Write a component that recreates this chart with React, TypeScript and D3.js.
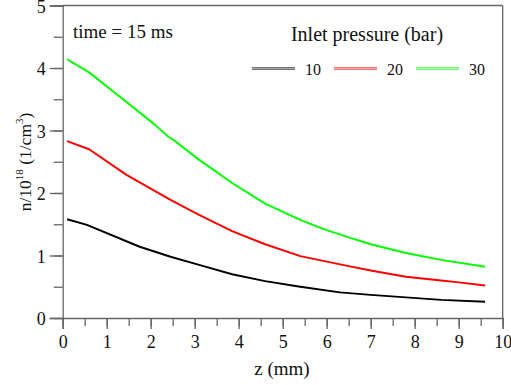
import React, { useEffect, useRef } from 'react';
import * as d3 from 'd3';

// z positions (mm) and densities (1e18 / cm^3)
const zGreen = [0.1, 0.6, 1.3, 2.1, 2.4, 2.5, 3.1, 3.35, 3.85, 4.6, 5.4, 5.9, 6.5, 7.0, 7.8, 8.6, 9.6];
const nGreen = [4.14, 3.93, 3.54, 3.09, 2.9, 2.86, 2.53, 2.41, 2.16, 1.83, 1.57, 1.43, 1.29, 1.18, 1.04, 0.93, 0.82];

const zRed = [0.1, 0.6, 1.45, 2.45, 3.1, 3.85, 4.6, 5.4, 6.5, 7.0, 7.8, 8.6, 9.0, 9.6];
const nRed = [2.83, 2.7, 2.29, 1.89, 1.65, 1.39, 1.18, 0.99, 0.83, 0.76, 0.66, 0.6, 0.57, 0.52];

const zBlack = [0.1, 0.55, 1.75, 2.45, 3.1, 3.85, 4.6, 5.4, 6.3, 7.0, 7.8, 8.6, 9.6];
const nBlack = [1.58, 1.49, 1.14, 0.98, 0.85, 0.7, 0.59, 0.5, 0.41, 0.37, 0.33, 0.29, 0.26];

const pressures = ['10', '20', '30'];
const colors = ['#000000', '#ff0000', '#00ff00'];

const xTicks = [0, 1, 2, 3, 4, 5, 6, 7, 8, 9, 10];
const yTicks = [0, 1, 2, 3, 4, 5];

const App = () => {
  const ref = useRef<SVGSVGElement>(null);

  useEffect(() => {
    const svg = d3.select(ref.current);
    svg.selectAll('*').remove();

    const left = 62.7, right = 502.7, top = 5.5, bottom = 318;
    const font = '"Liberation Serif", "Times New Roman", serif';
    const axisColor = '#666';

    const x = d3.scaleLinear().domain([0, 10]).range([left, right]);
    const y = d3.scaleLinear().domain([0, 5]).range([bottom, top]);

    // frame: top and right border
    svg.append('line').attr('x1', left).attr('x2', right).attr('y1', top).attr('y2', top)
      .attr('stroke', axisColor).attr('stroke-width', 1.3);
    svg.append('line').attr('x1', right).attr('x2', right).attr('y1', top).attr('y2', bottom)
      .attr('stroke', axisColor).attr('stroke-width', 1.3);

    // x axis with minor ticks
    const xAxis = svg.append('g').attr('transform', `translate(0,${bottom})`);
    xAxis.call(d3.axisBottom(x).tickValues(d3.range(0, 10.01, 0.5)).tickSize(8).tickFormat(() => ''));
    xAxis.selectAll('.tick line').attr('stroke', axisColor).attr('stroke-width', 1.3);
    xAxis.select('.domain').remove();
    const xMajor = svg.append('g').attr('transform', `translate(0,${bottom})`);
    xMajor.call(d3.axisBottom(x).tickValues(xTicks).tickSize(11).tickPadding(6).tickFormat(d3.format('d')));
    xMajor.select('.domain').attr('stroke', axisColor).attr('stroke-width', 1.3);
    xMajor.selectAll('.tick line').attr('stroke', axisColor).attr('stroke-width', 1.3);
    xMajor.selectAll('text').attr('font-family', font).attr('font-size', 18).attr('fill', '#111');

    // y axis with minor ticks
    const yAxis = svg.append('g').attr('transform', `translate(${left},0)`);
    yAxis.call(d3.axisLeft(y).tickValues(d3.range(0, 5.01, 0.5)).tickSize(9).tickFormat(() => ''));
    yAxis.selectAll('.tick line').attr('stroke', axisColor).attr('stroke-width', 1.3);
    yAxis.select('.domain').remove();
    const yMajor = svg.append('g').attr('transform', `translate(${left},0)`);
    yMajor.call(d3.axisLeft(y).tickValues(yTicks).tickSize(13).tickPadding(4).tickFormat(d3.format('d')));
    yMajor.select('.domain').attr('stroke', axisColor).attr('stroke-width', 1.3);
    yMajor.selectAll('.tick line').attr('stroke', axisColor).attr('stroke-width', 1.3);
    yMajor.selectAll('text').attr('font-family', font).attr('font-size', 18).attr('fill', '#111')
      .attr('dy', '0.38em');

    // curves
    const series = [
      { z: zBlack, n: nBlack },
      { z: zRed, n: nRed },
      { z: zGreen, n: nGreen },
    ];
    const line = d3.line<[number, number]>()
      .x(d => x(d[0]))
      .y(d => y(d[1]));
    series.forEach((s, i) => {
      svg.append('path')
        .datum(s.z.map((z, j) => [z, s.n[j]] as [number, number]))
        .attr('d', line)
        .attr('fill', 'none')
        .attr('stroke', colors[i])
        .attr('stroke-width', 2)
        .attr('stroke-linejoin', 'round');
    });

    // annotation
    svg.append('text').attr('x', 73).attr('y', 38)
      .attr('font-family', font).attr('font-size', 19).attr('fill', '#111')
      .text('time = 15 ms');

    // legend
    svg.append('text').attr('x', 367).attr('y', 41).attr('text-anchor', 'middle')
      .attr('font-family', font).attr('font-size', 20).attr('fill', '#111')
      .text('Inlet pressure (bar)');
    const legX = [252, 334, 416];
    pressures.forEach((p, i) => {
      svg.append('line').attr('x1', legX[i]).attr('x2', legX[i] + 43)
        .attr('y1', 68.5).attr('y2', 68.5)
        .attr('stroke', colors[i]).attr('stroke-width', 3).attr('opacity', 0.55);
      svg.append('line').attr('x1', legX[i]).attr('x2', legX[i] + 43)
        .attr('y1', 68.5).attr('y2', 68.5)
        .attr('stroke', '#fff').attr('stroke-width', 0.8).attr('opacity', 0.5);
      svg.append('text').attr('x', legX[i] + 53).attr('y', 74.5)
        .attr('font-family', font).attr('font-size', 16).attr('fill', '#111')
        .text(p);
    });

    // axis titles
    svg.append('text').attr('x', 282).attr('y', 375).attr('text-anchor', 'middle')
      .attr('font-family', font).attr('font-size', 19).attr('fill', '#111')
      .text('z (mm)');

    const yt = svg.append('text')
      .attr('transform', 'translate(31,162) rotate(-90)')
      .attr('text-anchor', 'middle')
      .attr('font-family', font).attr('font-size', 17.5).attr('fill', '#111');
    yt.append('tspan').text('n/10');
    yt.append('tspan').attr('font-size', 11).attr('dy', -8).text('18');
    yt.append('tspan').attr('dy', 8).text(' (1/cm');
    yt.append('tspan').attr('font-size', 11).attr('dy', -8).text('3');
    yt.append('tspan').attr('dy', 8).text(')');
  }, []);

  return (
    <svg ref={ref} width={511} height={385}
      style={{ position: 'absolute', left: 0, top: 0, background: '#fff' }} />
  );
};

export default App;
